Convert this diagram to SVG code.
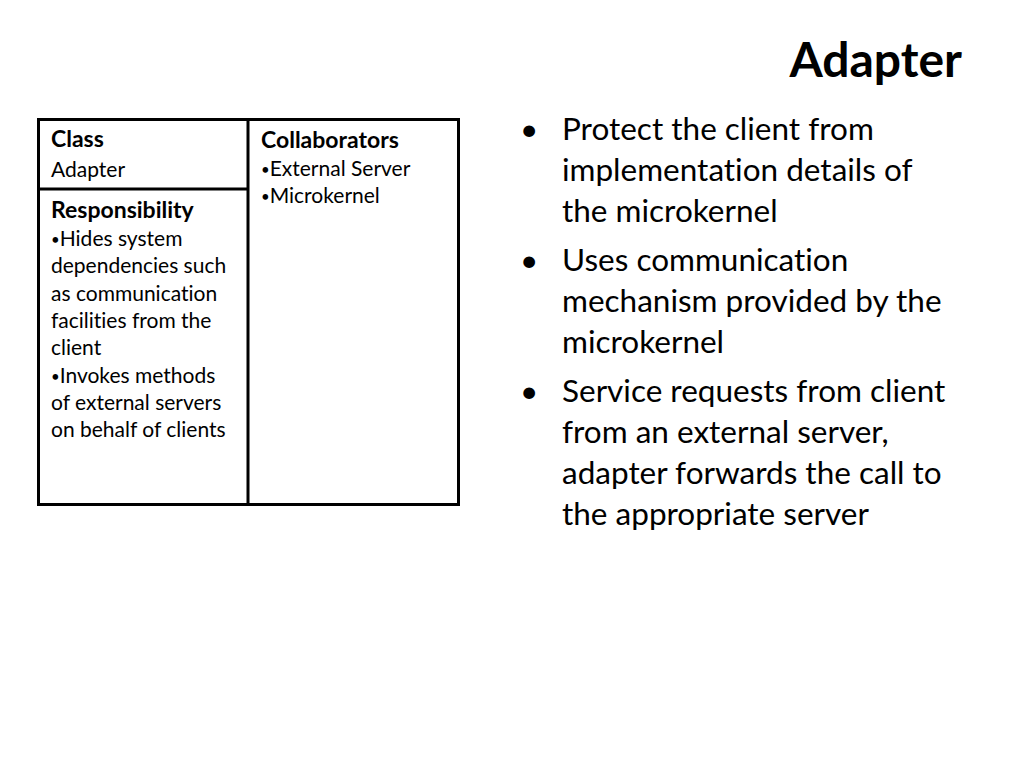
<svg xmlns="http://www.w3.org/2000/svg" width="1024" height="768" viewBox="0 0 1024 768">
<style>
text{font-family:Lato,"Open Sans","Liberation Sans",sans-serif;fill:#000;font-variant-ligatures:none}
.t{font-size:21px}
.b{font-weight:bold;font-size:23px}
.r{font-size:31.5px}
.d{font-size:15px}
.box{fill:none;stroke:#000;stroke-width:3}
</style>
<rect width="1024" height="768" fill="#fff"/>
<text x="962" y="77" font-size="48" font-weight="bold" text-anchor="end">Adapter</text>
<g id="card">
<rect class="box" x="38.5" y="119.5" width="420" height="385"/>
<line class="box" x1="248" y1="119.5" x2="248" y2="504.5"/>
<line class="box" x1="38.5" y1="189" x2="248" y2="189"/>
</g>
<g id="class-cell">
<text class="b" x="51" y="147">Class</text>
<text class="t" x="51" y="177">Adapter</text>
</g>
<g id="responsibility-cell">
<text class="b" x="51" y="218">Responsibility</text>
<text class="t" x="51" y="246"><tspan class="d" dy="-1">•</tspan><tspan dy="1">Hides system</tspan></text>
<text class="t" x="51" y="273">dependencies such</text>
<text class="t" x="51" y="301">as communication</text>
<text class="t" x="51" y="328">facilities from the</text>
<text class="t" x="51" y="355">client</text>
<text class="t" x="51" y="383"><tspan class="d" dy="-1">•</tspan><tspan dy="1">Invokes methods</tspan></text>
<text class="t" x="51" y="410">of external servers</text>
<text class="t" x="51" y="437">on behalf of clients</text>
</g>
<g id="collaborators-cell">
<text class="b" x="261" y="148">Collaborators</text>
<text class="t" x="261" y="176"><tspan class="d" dy="-1">•</tspan><tspan dy="1">External Server</tspan></text>
<text class="t" x="261" y="203"><tspan class="d" dy="-1">•</tspan><tspan dy="1">Microkernel</tspan></text>
</g>
<g id="bullets">
<text class="r" x="520" y="140">•</text>
<text class="r" x="562" y="140">Protect the client from</text>
<text class="r" x="562" y="181">implementation details of</text>
<text class="r" x="562" y="222">the microkernel</text>
<text class="r" x="520" y="271">•</text>
<text class="r" x="562" y="271">Uses communication</text>
<text class="r" x="562" y="312">mechanism provided by the</text>
<text class="r" x="562" y="353">microkernel</text>
<text class="r" x="520" y="402">•</text>
<text class="r" x="562" y="402">Service requests from client</text>
<text class="r" x="562" y="443">from an external server,</text>
<text class="r" x="562" y="484">adapter forwards the call to</text>
<text class="r" x="562" y="525">the appropriate server</text>
</g>
</svg>
